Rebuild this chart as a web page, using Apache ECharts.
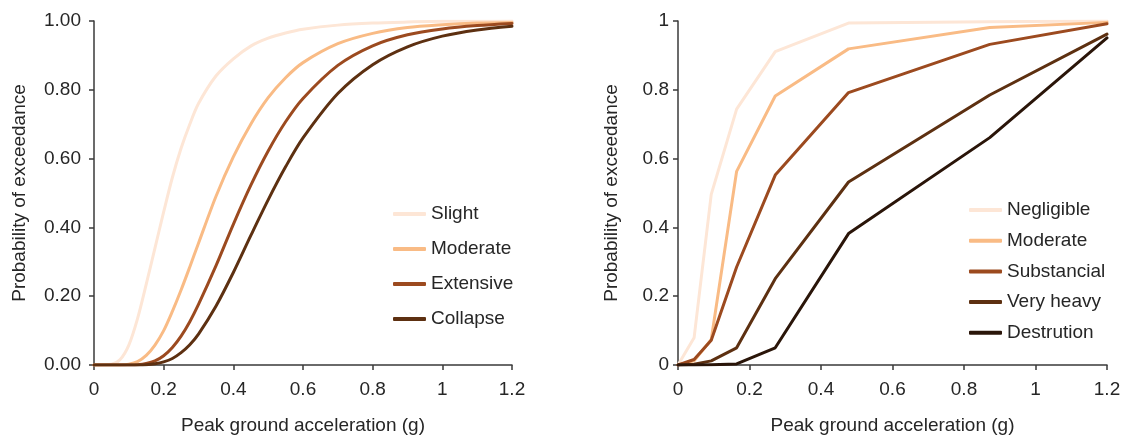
<!DOCTYPE html>
<html>
<head>
<meta charset="utf-8">
<script src="https://cdn.jsdelivr.net/npm/echarts@6/dist/echarts.min.js"></script>
<style>
html,body{margin:0;padding:0;background:#fff;}
#chart{width:1125px;height:440px;}
</style>
</head>
<body>
<div id="chart"></div>
<script>
// Left panel: fragility curves (PGA in g)
const xLeft = [0, 0.05, 0.075, 0.1, 0.125, 0.15, 0.175, 0.2, 0.225, 0.25, 0.275, 0.3, 0.35, 0.4, 0.45, 0.5, 0.55, 0.6, 0.7, 0.8, 0.9, 1.0, 1.1, 1.2];
const slight    = [0, 0.002, 0.016, 0.058, 0.135, 0.235, 0.34, 0.445, 0.545, 0.63, 0.70, 0.76, 0.84, 0.89, 0.927, 0.95, 0.965, 0.976, 0.988, 0.994, 0.997, 0.999, 0.999, 1.0];
const moderateL = [0, 0, 0.0003, 0.0024, 0.010, 0.028, 0.058, 0.10, 0.156, 0.218, 0.285, 0.354, 0.49, 0.605, 0.70, 0.777, 0.835, 0.879, 0.934, 0.964, 0.981, 0.989, 0.994, 0.996];
const extensive = [0, 0, 0, 0.0002, 0.001, 0.0044, 0.012, 0.027, 0.051, 0.084, 0.126, 0.176, 0.288, 0.409, 0.522, 0.622, 0.707, 0.775, 0.871, 0.928, 0.96, 0.977, 0.987, 0.993];
const collapse  = [0, 0, 0, 0, 0, 0.0006, 0.0034, 0.009, 0.019, 0.036, 0.059, 0.09, 0.171, 0.269, 0.376, 0.48, 0.576, 0.66, 0.789, 0.873, 0.925, 0.956, 0.974, 0.985];

// Right panel: damage probability curves
const xRight      = [0, 0.045, 0.093, 0.164, 0.272, 0.477, 0.872, 1.2];
const negligible  = [0, 0.079, 0.496, 0.744, 0.911, 0.994, 0.998, 1.0];
const moderateR   = [0, 0.012, 0.074, 0.563, 0.782, 0.919, 0.981, 0.996];
const substancial = [0, 0.016, 0.072, 0.285, 0.552, 0.792, 0.932, 0.992];
const veryHeavy   = [0, 0.002, 0.012, 0.05, 0.251, 0.532, 0.785, 0.962];
const destrution  = [0, 0, 0.001, 0.003, 0.05, 0.382, 0.661, 0.951];

const leftNames  = ['Slight', 'Moderate', 'Extensive', 'Collapse'];
const rightNames = ['Negligible', 'Moderate', 'Substancial', 'Very heavy', 'Destrution'];
const xTitle = 'Peak ground acceleration (g)';
const yTitle = 'Probability of exceedance';

const C = {
  light: '#fde6d6', orange: '#f9bb85', sienna: '#9c4a1f', brown: '#5d3011', dark: '#2a1509'
};
const FONT = 'Liberation Sans, Arial, sans-serif';
const FS = 19;
const TXT = '#262626';
const AX = '#3a3a3a';

function zip(xs, ys) { return xs.map((x, i) => [x, ys[i]]); }

function xAxis(gi) {
  return {
    type: 'value', gridIndex: gi, min: 0, max: 1.2, interval: 0.2,
    name: xTitle, nameLocation: 'middle', nameGap: 51,
    nameTextStyle: {color: TXT, fontSize: FS, fontFamily: FONT},
    axisLine: {show: true, lineStyle: {color: AX, width: 1.5}},
    axisTick: {show: true, length: 5, lineStyle: {color: AX, width: 1.5}},
    axisLabel: {color: TXT, fontSize: FS, fontFamily: FONT, margin: 15},
    splitLine: {show: false}
  };
}
function yAxis(gi, fmt, gap, margin) {
  return {
    type: 'value', gridIndex: gi, min: 0, max: 1, interval: 0.2,
    name: yTitle, nameLocation: 'middle', nameGap: gap, nameRotate: 90,
    nameTextStyle: {color: TXT, fontSize: FS, fontFamily: FONT},
    axisLine: {show: true, lineStyle: {color: AX, width: 1.5}},
    axisTick: {show: true, length: 5, lineStyle: {color: AX, width: 1.5}},
    axisLabel: {color: TXT, fontSize: FS, fontFamily: FONT, margin: margin, formatter: fmt},
    splitLine: {show: false}
  };
}
function line(name, xs, ys, color, gi, smooth) {
  return {
    type: 'line', name: name, xAxisIndex: gi, yAxisIndex: gi,
    data: zip(xs, ys), smooth: smooth ? 0.3 : false,
    showSymbol: false, symbol: 'none',
    lineStyle: {color: color, width: 3, cap: 'round', join: 'round'},
    itemStyle: {color: color}
  };
}

const chart = echarts.init(document.getElementById('chart'), null, {renderer: 'canvas'});
chart.setOption({
  animation: false,
  backgroundColor: '#fff',
  textStyle: {fontFamily: FONT},
  grid: [
    {left: 94, right: 613, top: 21, bottom: 71},
    {left: 678, right: 18, top: 21, bottom: 71}
  ],
  xAxis: [xAxis(0), xAxis(1)],
  yAxis: [yAxis(0, v => v.toFixed(2), 65, 13), yAxis(1, v => String(v), 57, 9)],
  legend: [
    {
      data: leftNames, orient: 'vertical', left: 388, top: 198,
      icon: 'roundRect', itemWidth: 33, itemHeight: 4, itemGap: 13,
      textStyle: {color: TXT, fontSize: FS, fontFamily: FONT, lineHeight: 22}
    },
    {
      data: rightNames, orient: 'vertical', left: 964, top: 194,
      icon: 'roundRect', itemWidth: 33, itemHeight: 4, itemGap: 8.7,
      textStyle: {color: TXT, fontSize: FS, fontFamily: FONT, lineHeight: 22}
    }
  ],
  series: [
    line('Slight', xLeft, slight, C.light, 0, true),
    line('Moderate', xLeft, moderateL, C.orange, 0, true),
    line('Extensive', xLeft, extensive, C.sienna, 0, true),
    line('Collapse', xLeft, collapse, C.brown, 0, true),
    line('Negligible', xRight, negligible, C.light, 1, false),
    line('Moderate', xRight, moderateR, C.orange, 1, false),
    line('Substancial', xRight, substancial, C.sienna, 1, false),
    line('Very heavy', xRight, veryHeavy, C.brown, 1, false),
    line('Destrution', xRight, destrution, C.dark, 1, false)
  ]
});
</script>
</body>
</html>
